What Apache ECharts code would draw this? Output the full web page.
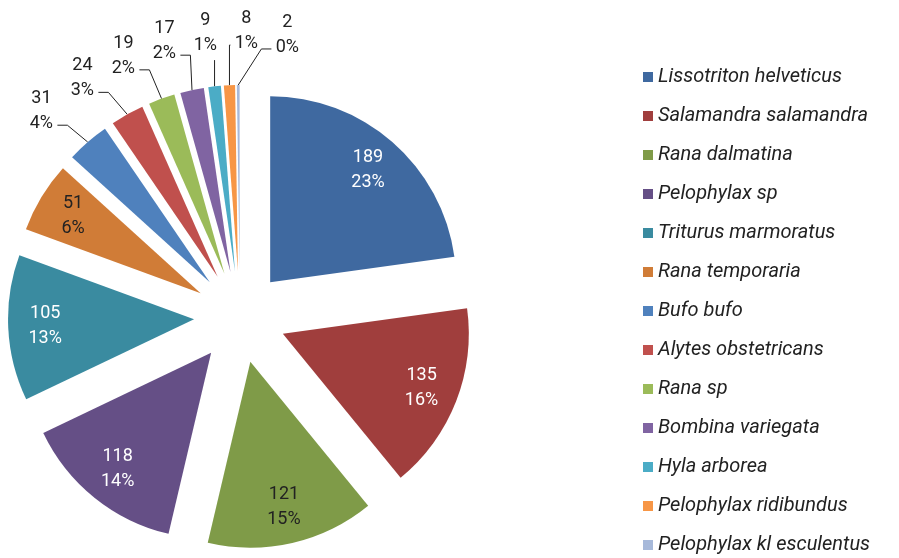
<!DOCTYPE html>
<html>
<head>
<meta charset="utf-8">
<script src="https://cdn.jsdelivr.net/npm/echarts@6/dist/echarts.min.js"></script>
<style>
  html, body { margin: 0; padding: 0; background: #fff; }
  #chart { width: 899px; height: 558px; }
</style>
</head>
<body>
<div id="chart"></div>
<script>
// species counts, in the order of the slices (clockwise from 12 o'clock)
var species = ['Lissotriton helveticus', 'Salamandra salamandra', 'Rana dalmatina', 'Pelophylax sp',
  'Triturus marmoratus', 'Rana temporaria', 'Bufo bufo', 'Alytes obstetricans', 'Rana sp',
  'Bombina variegata', 'Hyla arborea', 'Pelophylax ridibundus', 'Pelophylax kl esculentus'];
var counts = [189, 135, 121, 118, 105, 51, 31, 24, 19, 17, 9, 8, 2];
var colors = ['#3F69A0', '#A03E3D', '#7F9B48', '#654F86', '#3A8BA0', '#D07C37',
  '#4F81BD', '#C0504D', '#9BBB59', '#8064A2', '#4BACC6', '#F79646', '#A7B9DA'];
// the first slices carry their label inside, in this colour
var insideColor = ['#fff', '#fff', '#222', '#fff', '#fff', '#222'];

var font = 'Roboto, "Liberation Sans", sans-serif';
var cx = 240, cy = 317, R = 186, explode = 46;
var outDist = 240;   // outside labels: distance from the slice tip
var labelGap = 41;   // min horizontal spacing of outside labels
var halfW = 13;

var total = 0;
for (var i = 0; i < counts.length; i++) total += counts[i];
// mid angle of each slice, clockwise from 12 o'clock
var midAngle = [];
var acc = 0;
for (var i = 0; i < counts.length; i++) {
  midAngle.push((acc + counts[i] / 2) / total * Math.PI * 2);
  acc += counts[i];
}
function tip(i) {
  return [cx + Math.sin(midAngle[i]) * explode, cy - Math.cos(midAngle[i]) * explode];
}

// outside labels: radial x first, spread apart (clusters centred), then back onto the ring
var outIdx = [];
for (var i = insideColor.length; i < counts.length; i++) outIdx.push(i);
var ring = explode + outDist;
var nomX = [], labPos = {};
outIdx.forEach(function (i) {
  nomX.push(cx + Math.sin(midAngle[i]) * ring);
  labPos[i] = [0, 0];
});
var clusters = nomX.map(function (x, k) { return { start: k, n: 1, sum: x }; });
var merged = true;
while (merged) {
  merged = false;
  for (var k = 1; k < clusters.length; k++) {
    var a = clusters[k - 1], b = clusters[k];
    var aRight = a.sum / a.n + (a.n - 1) * labelGap / 2;
    var bLeft = b.sum / b.n - (b.n - 1) * labelGap / 2;
    if (bLeft - aRight < labelGap) {
      clusters.splice(k - 1, 2, { start: a.start, n: a.n + b.n, sum: a.sum + b.sum });
      merged = true;
      break;
    }
  }
}
clusters.forEach(function (c) {
  var mean = c.sum / c.n;
  for (var k = 0; k < c.n; k++) {
    var x = mean + (k - (c.n - 1) / 2) * labelGap;
    var dx = Math.min(Math.abs(x - cx), ring);
    labPos[outIdx[c.start + k]] = [x, cy - Math.sqrt(ring * ring - dx * dx)];
  }
});

function fmt(p) {
  return p.value + '\n' + Math.round(p.percent) + '%';
}

var sliceData = [], inLabelData = [], outLabelData = [];
for (var i = 0; i < species.length; i++) {
  var inside = i < insideColor.length;
  sliceData.push({ name: species[i], value: counts[i], selected: true, itemStyle: { color: colors[i] } });
  inLabelData.push({
    name: species[i], value: counts[i], selected: true,
    label: { show: inside, color: inside ? insideColor[i] : '#222' }
  });
  outLabelData.push({
    name: species[i], value: counts[i],
    label: { show: !inside }, labelLine: { show: !inside }
  });
}

var myChart = echarts.init(document.getElementById('chart'));
var option = {
  animation: false,
  legend: {
    orient: 'vertical',
    left: 643,
    top: 67,
    padding: 0,
    itemWidth: 10,
    itemHeight: 10,
    itemGap: 19,
    itemTextGap: 9,
    icon: 'rect',
    selectedMode: false,
    data: species,
    textStyle: { fontFamily: font, fontSize: 20, fontStyle: 'italic', color: '#222', lineHeight: 20 }
  },
  series: [
    {
      // the exploded slices
      type: 'pie',
      center: [cx, cy],
      radius: [0, R],
      startAngle: 90,
      clockwise: true,
      selectedMode: 'multiple',
      selectedOffset: explode,
      emphasis: { disabled: true },
      select: { itemStyle: { borderWidth: 0 } },
      itemStyle: { borderWidth: 0 },
      label: { show: false },
      labelLine: { show: false },
      data: sliceData
    },
    {
      // invisible copy carrying the inside labels (further out than mid-radius)
      type: 'pie',
      silent: true,
      center: [cx, cy],
      radius: [0, R * 1.57],
      startAngle: 90,
      clockwise: true,
      selectedMode: 'multiple',
      selectedOffset: explode,
      emphasis: { disabled: true },
      itemStyle: { color: 'rgba(0,0,0,0)', borderWidth: 0 },
      select: { itemStyle: { color: 'rgba(0,0,0,0)', borderWidth: 0 } },
      label: { position: 'inside', formatter: fmt, fontFamily: font, fontSize: 18, lineHeight: 25 },
      labelLine: { show: false },
      data: inLabelData
    },
    {
      // invisible copy carrying the outside labels with leader lines
      type: 'pie',
      silent: true,
      center: [cx, cy],
      radius: [0, R],
      startAngle: 90,
      clockwise: true,
      avoidLabelOverlap: false,
      emphasis: { disabled: true },
      itemStyle: { color: 'rgba(0,0,0,0)', borderWidth: 0 },
      label: {
        position: 'outside', formatter: fmt, fontFamily: font, fontSize: 18, lineHeight: 25,
        color: '#222'
      },
      labelLine: { length: 10, length2: 10, lineStyle: { color: '#222', width: 1 } },
      labelLayout: function (p) {
        var i = p.dataIndex;
        var pos = labPos[i];
        if (!pos) return {};
        var t = tip(i);
        var e = [t[0] + Math.sin(midAngle[i]) * R, t[1] - Math.cos(midAngle[i]) * R];
        var lx = pos[0], ly = pos[1];
        var pts;
        if (lx + halfW + 3 <= e[0]) {
          var x2 = lx + halfW + 3;
          pts = [e, [Math.min(x2 + 10, e[0]), ly + 14], [x2, ly + 14]];
        } else if (lx - halfW - 3 >= e[0]) {
          var x2 = lx - halfW - 3;
          pts = [e, [Math.max(x2 - 10, e[0]), ly + 14], [x2, ly + 14]];
        } else {
          pts = [e, [e[0], ly + 27], [e[0], ly + 27]];
        }
        return {
          x: lx, y: ly,
          align: 'center', verticalAlign: 'middle',
          labelLinePoints: pts
        };
      },
      data: outLabelData
    }
  ]
};
myChart.setOption(option);
</script>
</body>
</html>
